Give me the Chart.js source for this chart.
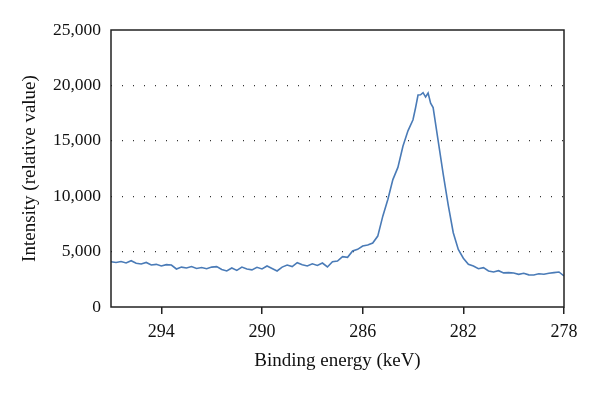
<!DOCTYPE html>
<html>
<head>
<meta charset="utf-8">
<script src="https://cdn.jsdelivr.net/npm/chart.js@4"></script>
<style>
  html, body { margin: 0; padding: 0; background: #fff; }
  #wrap { width: 600px; height: 393px; }
</style>
</head>
<body>
<div id="wrap"><canvas id="xpsChart"></canvas></div>
<script>
// binding energy (keV)
const energies = [
  296.0, 295.8, 295.6, 295.4, 295.2, 295.0, 294.8, 294.6, 294.4, 294.2,
  294.0, 293.8, 293.6, 293.4, 293.2, 293.0, 292.8, 292.6, 292.4, 292.2,
  292.0, 291.8, 291.6, 291.4, 291.2, 291.0, 290.8, 290.6, 290.4, 290.2,
  290.0, 289.8, 289.6, 289.4, 289.2, 289.0, 288.8, 288.6, 288.4, 288.2,
  288.0, 287.8, 287.6, 287.4, 287.2, 287.0, 286.8, 286.6, 286.4, 286.2,
  286.0, 285.8, 285.6, 285.4, 285.2, 285.0, 284.8, 284.6, 284.4, 284.2,
  284.0, 283.9, 283.8, 283.7, 283.6, 283.5, 283.4, 283.3, 283.2, 283.0,
  282.8, 282.6, 282.4, 282.2, 282.0, 281.8, 281.6, 281.4, 281.2, 281.0,
  280.8, 280.6, 280.4, 280.2, 280.0, 279.8, 279.6, 279.4, 279.2, 279.0,
  278.8, 278.6, 278.4, 278.2, 278.0
];

// intensity (relative value)
const intensity = [
  4090, 4020, 4100, 3980, 4180, 3950, 3880, 4020, 3790, 3850,
  3700, 3820, 3790, 3430, 3600, 3520, 3650, 3480, 3560, 3450,
  3600, 3640, 3380, 3250, 3520, 3300, 3600, 3430, 3350, 3580,
  3430, 3700, 3480, 3250, 3600, 3790, 3650, 4000, 3820, 3700,
  3900, 3750, 3970, 3610, 4090, 4150, 4540, 4480, 5050, 5200,
  5500, 5600, 5770, 6400, 8200, 9700, 11500, 12600, 14500, 15900,
  16900, 17960, 19130, 19150, 19340, 18950, 19310, 18400, 18000, 15000,
  12000, 9200, 6700, 5200, 4400, 3850, 3700, 3450, 3550, 3250,
  3160, 3280, 3080, 3100, 3070, 2950, 3050, 2900, 2890, 3000,
  2950, 3050, 3100, 3160, 2800
];

const xTicks = [294, 290, 286, 282, 278];
const yTicks = [0, 5000, 10000, 15000, 20000, 25000];

const points = energies.map(function(e, i) { return { x: e, y: intensity[i] }; });

// box around the plot area
const frame = {
  id: 'frame',
  afterDraw: function(chart) {
    const a = chart.chartArea;
    const ctx = chart.ctx;
    ctx.save();
    ctx.strokeStyle = '#222';
    ctx.lineWidth = 1.5;
    ctx.strokeRect(a.left, a.top, a.right - a.left, a.bottom - a.top);
    ctx.restore();
  }
};

const serif = 'Liberation Serif';

new Chart(document.getElementById('xpsChart'), {
  type: 'scatter',
  data: {
    datasets: [{
      data: points,
      showLine: true,
      borderColor: '#4a7bb7',
      borderWidth: 1.6,
      pointRadius: 0,
      tension: 0
    }]
  },
  options: {
    responsive: true,
    maintainAspectRatio: false,
    animation: false,
    layout: { padding: { top: 30, right: 36, left: 0, bottom: 0 } },
    plugins: {
      legend: { display: false },
      tooltip: { enabled: false }
    },
    scales: {
      x: {
        type: 'linear',
        reverse: true,
        min: 278,
        max: 296,
        afterBuildTicks: function(scale) {
          scale.ticks = xTicks.map(function(v) { return { value: v }; });
        },
        afterFit: function(scale) { scale.height = 86; },
        grid: { drawOnChartArea: false, drawTicks: true, tickLength: 7, color: '#222', lineWidth: 1.5 },
        border: { display: false },
        ticks: {
          color: '#111',
          padding: 7,
          font: { family: serif, size: 18 },
          callback: function(v) { return v; }
        },
        title: {
          display: true,
          text: 'Binding energy (keV)',
          color: '#111',
          font: { family: serif, size: 19 },
          padding: { top: 0, bottom: 21 }
        }
      },
      y: {
        min: 0,
        max: 25000,
        afterBuildTicks: function(scale) {
          scale.ticks = yTicks.map(function(v) { return { value: v }; });
        },
        afterFit: function(scale) { scale.width = 111; },
        grid: {
          drawTicks: false,
          color: function(ctx) {
            const v = ctx.tick ? ctx.tick.value : 0;
            return (v === 0 || v === 25000) ? 'rgba(0,0,0,0)' : '#333';
          },
          lineWidth: 1.2
        },
        border: { display: false, dash: [1, 10] },
        ticks: {
          color: '#111',
          padding: 10,
          font: { family: serif, size: 17.5 },
          callback: function(v) { return v.toLocaleString('en-US'); }
        },
        title: {
          display: true,
          text: 'Intensity (relative value)',
          color: '#111',
          font: { family: serif, size: 19 },
          padding: { top: 19, bottom: 0 }
        }
      }
    }
  },
  plugins: [frame]
});
</script>
</body>
</html>
